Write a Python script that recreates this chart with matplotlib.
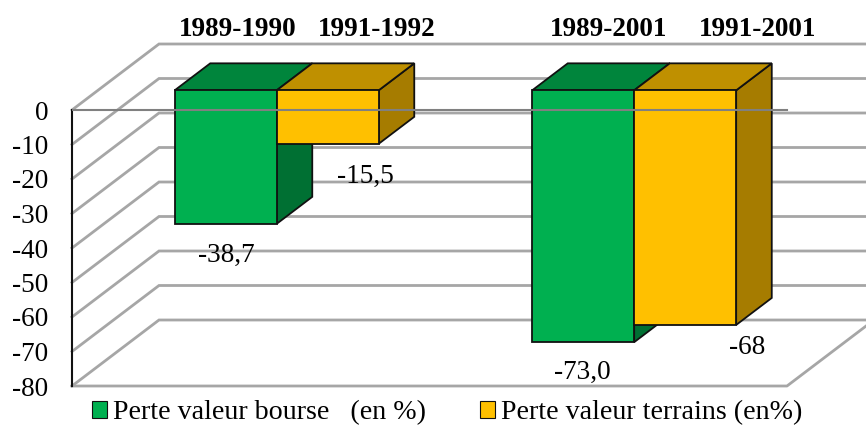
import matplotlib
matplotlib.use('Agg')
import matplotlib.pyplot as plt
from matplotlib.patches import Patch, Polygon

groups = [0.5, 1.5]
periods_bourse = ['1989-1990', '1989-2001']
periods_terrains = ['1991-1992', '1991-2001']
bourse = [-38.7, -73.0]
terrains = [-15.5, -68]
labels_bourse = ['-38,7', '-73,0']
labels_terrains = ['-15,5', '-68']
yticks = [0, -10, -20, -30, -40, -50, -60, -70, -80]
series_names = ['Perte valeur bourse   (en %)', 'Perte valeur terrains (en%)']

green = ['#00B050', '#00853C', '#007033']
orange = ['#FFC000', '#BF9000', '#A67C00']

plt.rcParams['font.family'] = ['Liberation Serif', 'DejaVu Serif']
plt.rcParams['axes.unicode_minus'] = False

W, H = 866, 425
fig = plt.figure(figsize=(W / 100, H / 100), dpi=100)
# axes = front plane of the fake 3d box, x runs 0..2 between px 72 and 787
ax = fig.add_axes([72 / W, (H - 386) / H, (W - 72) / W, 386 / H])
ux = 357.5
uy = 3.45
ax.set_xlim(0, (W - 72) / ux)
ax.set_ylim(-80, 110 / uy)

depth_x = 87 / ux
depth_y = 66 / uy
start = 0.298
end = 0.707
bar_w = 102 / ux
grid_col = '#A6A6A6'


def depth(x, y, frac):
    return x + depth_x * frac, y + depth_y * frac


# back wall and floor lines
for v in yticks:
    xs = [0, depth_x, 2 + depth_x]
    ys = [v, v + depth_y, v + depth_y]
    ax.plot(xs, ys, color=grid_col, lw=2, zorder=1, solid_joinstyle='miter', clip_on=False)
ax.plot([0, 2, 2 + depth_x], [-80, -80, -80 + depth_y], color=grid_col, lw=2, zorder=1, clip_on=False)


def box(x0, val, cols, z):
    x1 = x0 + bar_w
    a = depth(x0, 0, start)
    b = depth(x1, 0, start)
    c = depth(x1, val, start)
    d = depth(x0, val, start)
    a2 = depth(x0, 0, end)
    b2 = depth(x1, 0, end)
    c2 = depth(x1, val, end)
    kw = dict(edgecolor='#111111', lw=1.3, joinstyle='miter')
    ax.add_patch(Polygon([b, b2, c2, c], facecolor=cols[2], zorder=z, **kw))
    ax.add_patch(Polygon([a, a2, b2, b], facecolor=cols[1], zorder=z, **kw))
    ax.add_patch(Polygon([a, b, c, d], facecolor=cols[0], zorder=z, **kw))


for i, g in enumerate(groups):
    box(g - bar_w, bourse[i], green, 3 + i * 2)
    box(g, terrains[i], orange, 4 + i * 2)

# zero line passes over the bars
ax.plot([0, 2], [0, 0], color='#808080', lw=1.5, zorder=10)

# text positions are offsets in px from the bar face
fs = 19.6
top_y = 80 / uy
top_dx = [(12, 49), (25, 72)]
lab_dx = [(1, 38), (-1, 62)]
lab_dy = [(-3.5, -3.8), (-3.2, -0.7)]
for i, g in enumerate(groups):
    cb = depth(g - bar_w / 2, 0, start)[0]
    ct = depth(g + bar_w / 2, 0, start)[0]
    ax.text(cb + top_dx[i][0] / ux, top_y, periods_bourse[i], ha='center', va='center',
            fontsize=fs, fontweight='bold', clip_on=False, zorder=11)
    ax.text(ct + top_dx[i][1] / ux, top_y, periods_terrains[i], ha='center', va='center',
            fontsize=fs, fontweight='bold', clip_on=False, zorder=11)
    ax.text(cb + lab_dx[i][0] / ux, bourse[i] + lab_dy[i][0], labels_bourse[i], ha='center', va='center',
            fontsize=fs, clip_on=False, zorder=11)
    ax.text(ct + lab_dx[i][1] / ux, terrains[i] + lab_dy[i][1], labels_terrains[i], ha='center', va='center',
            fontsize=fs, clip_on=False, zorder=11)

ax.set_xticks([])
ax.set_yticks(yticks)
ax.tick_params(axis='y', length=0, pad=17, labelsize=fs)
for s in ['top', 'right', 'bottom']:
    ax.spines[s].set_visible(False)
ax.spines['left'].set_bounds(-80, 0)
ax.spines['left'].set_linewidth(1.5)
ax.spines['left'].set_color('#111111')
ax.spines['left'].set_zorder(5)
ax.patch.set_visible(False)

handles = [Patch(facecolor=green[0], edgecolor='#111111', lw=0.8),
           Patch(facecolor=orange[0], edgecolor='#111111', lw=0.8)]
fig.legend(handles, series_names, ncol=2, frameon=False, fontsize=20.2,
           loc='center left', bbox_to_anchor=(92 / W, (H - 413) / H),
           handlelength=0.53, handleheight=0.53, handletextpad=0.21,
           columnspacing=1.93, borderpad=0, borderaxespad=0)

fig.savefig('out.png', dpi=100)
